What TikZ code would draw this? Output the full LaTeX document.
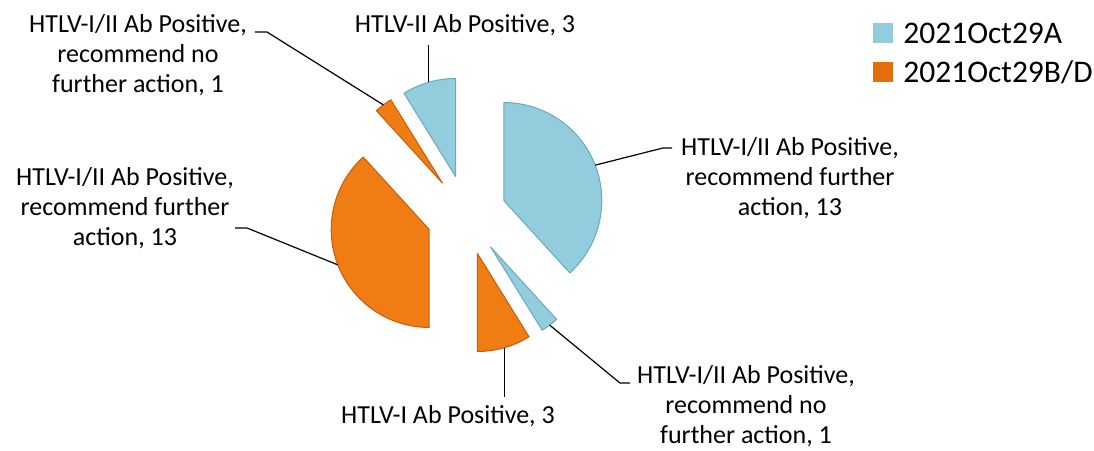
\documentclass[tikz,border=0pt]{standalone}
\usepackage{fontspec}
\setmainfont{Carlito}
\usepackage{tikz}
\usetikzlibrary{positioning, calc}
\definecolor{seriesA}{RGB}{147,205,221}
\definecolor{seriesAdark}{RGB}{104,170,190}
\definecolor{seriesB}{RGB}{228,108,10}
\definecolor{seriesBlight}{RGB}{240,124,20}
\definecolor{seriesBdark}{RGB}{200,92,8}

\begin{document}
\begin{tikzpicture}[
  x=1pt, y=1pt,
  every node/.style={font=\fontsize{26}{30}\selectfont},
  sliceA/.style={fill=seriesA, draw=seriesAdark, line width=1pt, line join=round},
  sliceB/.style={fill=seriesBlight, draw=seriesBdark, line width=1pt, line join=round},
  leader/.style={draw=black, line width=1.2pt},
  label/.style={align=center, inner sep=0pt},
  legbox/.style={minimum size=20pt, inner sep=0pt},
  legtext/.style={font=\fontsize{31.5}{36}\selectfont, inner sep=0pt},
]
\useasboundingbox (0,0) rectangle (1094,450);

% Pie centre
\coordinate (C) at (466.5,235);

% Series A slices
\draw[sliceA] (C) ++(21.18:40) coordinate (pA13) -- ++(90:98)
  arc[start angle=90, end angle=-47.65, radius=98] -- cycle;
\draw[sliceA] (C) ++(-52.94:40) coordinate (pA1) -- ++(-47.65:98)
  arc[start angle=-47.65, end angle=-58.24, radius=98] -- cycle;
\draw[sliceA] (C) ++(105.88:40) coordinate (pA3) -- ++(121.76:98)
  arc[start angle=121.76, end angle=90, radius=98] -- cycle;

% Series B/D slices
\draw[sliceB] (C) ++(-74.12:40) coordinate (pO3) -- ++(-58.24:98)
  arc[start angle=-58.24, end angle=-90, radius=98] -- cycle;
\draw[sliceB] (C) ++(201.18:40) coordinate (pO13) -- ++(270:98)
  arc[start angle=270, end angle=132.35, radius=98] -- cycle;
\draw[sliceB] (C) ++(127.06:40) coordinate (pO1) -- ++(132.35:98)
  arc[start angle=132.35, end angle=121.76, radius=98] -- cycle;

% Arc mid points for the leaders
\path (pA13) ++(21.18:98) coordinate (eA13);
\path (pA1) ++(-52.94:98) coordinate (eA1);
\path (pA3) ++(105.88:98) coordinate (eA3);
\path (pO3) ++(-74.12:98) coordinate (eO3);
\path (pO13) ++(201.18:98) coordinate (eO13);
\path (pO1) ++(127.06:98) coordinate (eO1);

% Data labels
\node[label] (lblO1) at (138,395) {HTLV-I/II Ab Positive,\\recommend no\\further action, 1};
\node[label, anchor=base] (lblA3) at (465,417) {HTLV-II Ab Positive, 3};
\node[label] (lblA13) at (790,272) {HTLV-I/II Ab Positive,\\recommend further\\action, 13};
\node[label] (lblO13) at (125,242) {HTLV-I/II Ab Positive,\\recommend further\\action, 13};
\node[label, anchor=base] (lblO3) at (448,27) {HTLV-I Ab Positive, 3};
\node[label] (lblA1) at (746,44) {HTLV-I/II Ab Positive,\\recommend no\\further action, 1};

% Leader lines
\coordinate (kO1a) at (255,418);
\coordinate (kO1b) at (267,418);
\draw[leader] (kO1a) -- (kO1b) -- (eO1);
\coordinate (kA3) at (430,405);
\draw[leader] (eA3) -- (eA3 |- kA3);
\coordinate (kA13a) at (672,302);
\coordinate (kA13b) at (663,302);
\draw[leader] (kA13a) -- (kA13b) -- (eA13);
\coordinate (kO13a) at (235,222);
\coordinate (kO13b) at (247,222);
\draw[leader] (kO13a) -- (kO13b) -- (eO13);
\coordinate (kO3) at (505,53);
\draw[leader] (eO3) -- (eO3 |- kO3);
\coordinate (kA1a) at (630,67);
\coordinate (kA1b) at (620,67);
\draw[leader] (kA1a) -- (kA1b) -- (eA1);

% Legend
\node[legbox, fill=seriesA] (legA) at (883,417) {};
\node[legtext, right=10pt of legA] (legAtxt) {2021Oct29A};
\node[legbox, fill=seriesB] (legB) at (883,377.5) {};
\node[legtext, right=10pt of legB] (legBtxt) {2021Oct29B/D};

\end{tikzpicture}
\end{document}
